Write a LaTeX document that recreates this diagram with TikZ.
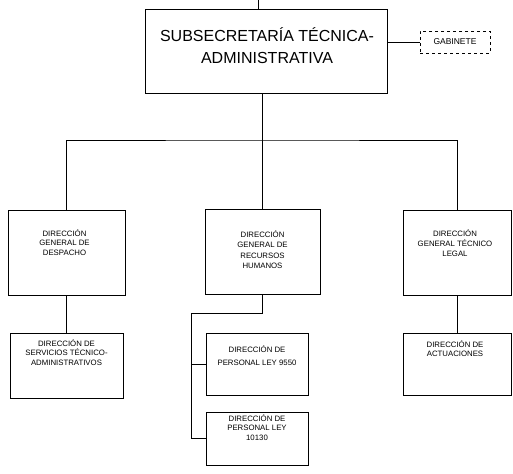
\documentclass[tikz,border=0pt]{standalone}
\usepackage{fontspec}
\setmainfont{Liberation Sans}
\usetikzlibrary{positioning}
\tikzset{
line width=0.7pt, % thin lines as in the scan
unitbox/.style={draw, rectangle, inner sep=0pt}, % frame of one office
unittext/.style={align=center, inner sep=0pt, font=\fontsize{7.8}{9.2}\selectfont}, % small text in the frames
headtext/.style={align=center, inner sep=0pt, font=\fontsize{16}{22}\selectfont}, % text of the top office
}

\begin{document}
\begin{tikzpicture}[x=1pt, y=-1pt]
  \useasboundingbox (0,0) rectangle (513,473);

  % top level
  \node[unitbox, minimum width=242pt, minimum height=84pt] (sub) at (266,51) {};
  \node[headtext] (sub-t) at ([xshift=1pt, yshift=5pt]sub.center) {SUBSECRETARÍA TÉCNICA-\\ADMINISTRATIVA};
  \node[unitbox, dashed, minimum width=70pt, minimum height=22pt, font=\fontsize{8.5}{10}\selectfont] (gab) at (455,42) {GABINETE};
  \coordinate (top) at (258,0);

  % general directions
  \node[unitbox, minimum width=117pt, minimum height=85pt] (dgd) at (66.5,252.5) {};
  \node[unittext] (dgd-t) at ([xshift=-2pt, yshift=10pt]dgd.center) {DIRECCIÓN\\GENERAL DE\\DESPACHO};
  \node[unitbox, minimum width=115pt, minimum height=85pt] (dgrh) at (262.5,251.5) {};
  \node[unittext, font=\fontsize{7.8}{10.5}\selectfont] (dgrh-t) at ([yshift=2pt]dgrh.center) {DIRECCIÓN\\GENERAL DE\\RECURSOS\\HUMANOS};
  \node[unitbox, minimum width=108pt, minimum height=85pt] (dgt) at (457,252.5) {};
  \node[unittext, font=\fontsize{7.8}{10}\selectfont] (dgt-t) at ([xshift=-2pt, yshift=9pt]dgt.center) {DIRECCIÓN\\GENERAL TÉCNICO\\LEGAL};

  % directions
  \node[unitbox, minimum width=113pt, minimum height=65pt] (dsta) at (66.5,365.5) {};
  \node[unittext] (dsta-t) at ([yshift=13pt]dsta.center) {DIRECCIÓN DE\\SERVICIOS TÉCNICO-\\ADMINISTRATIVOS};
  \node[unitbox, minimum width=102pt, minimum height=62pt] (dpl1) at (257,364) {};
  \node[unittext, font=\fontsize{7.8}{13}\selectfont] (dpl1-t) at ([yshift=8pt]dpl1.center) {DIRECCIÓN DE\\PERSONAL LEY 9550};
  \node[unitbox, minimum width=102pt, minimum height=53pt] (dpl2) at (257,438.5) {};
  \node[unittext] (dpl2-t) at ([yshift=11pt]dpl2.center) {DIRECCIÓN DE\\PERSONAL LEY\\10130};
  \node[unitbox, minimum width=108pt, minimum height=62pt] (dact) at (457,364) {};
  \node[unittext] (dact-t) at ([xshift=-2pt, yshift=15pt]dact.center) {DIRECCIÓN DE\\ACTUACIONES};

  % connectors
  \coordinate (bus) at (263,140);
  \coordinate (rh) at (191,313);
  \draw (top) -- (top |- sub.north);
  \draw (sub.east |- gab.west) -- (gab.west);
  \draw (sub.south -| dgrh.north) -- (dgrh.north);
  \draw (dgd.north) |- (bus) -| (dgt.north);
  \draw (dgd.south) -- (dsta.north);
  \draw (dgt.south) -- (dact.north);
  \draw (dgrh.south) |- (rh) |- (dpl2.west);
  \draw (rh |- dpl1.west) -- (dpl1.west);

\end{tikzpicture}
\end{document}
